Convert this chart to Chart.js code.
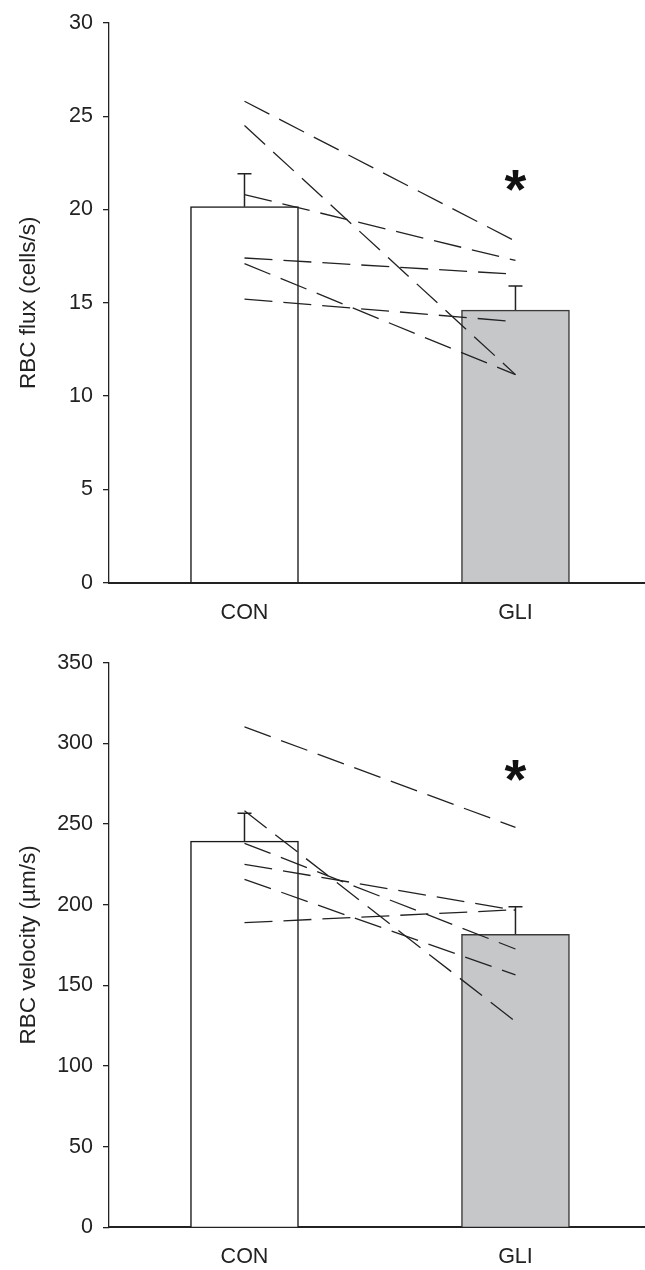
<!DOCTYPE html>
<html>
<head>
<meta charset="utf-8">
<script src="https://cdn.jsdelivr.net/npm/chart.js@4.4.1/dist/chart.umd.min.js"></script>
<style>
  html, body { margin: 0; padding: 0; background: #fff; }
  .panel { width: 645px; height: 635px; }
  canvas { display: block; }
</style>
</head>
<body>
<div class="panel"><canvas id="fluxChart" width="645" height="635"></canvas></div>
<div class="panel"><canvas id="velocityChart" width="645" height="635"></canvas></div>
<script>
const groups = ['CON', 'GLI'];

// RBC flux (cells/s): group means, SEM, and paired subjects
const fluxMean = [20.15, 14.61];
const fluxSem = [1.77, 1.29];
const fluxCon = [25.8, 24.5, 20.8, 17.4, 17.1, 15.2];
const fluxGli = [18.3, 11.15, 17.27, 16.53, 11.15, 13.99];
const fluxTicks = [0, 5, 10, 15, 20, 25, 30];

// RBC velocity (µm/s)
const velMean = [239.4, 181.6];
const velSem = [17.2, 17.1];
const velCon = [310.1, 258.2, 238.0, 225.0, 215.7, 188.8];
const velGli = [247.9, 127.5, 172.5, 196.5, 156.5, 196.8];
const velTicks = [0, 50, 100, 150, 200, 250, 300, 350];

// where the significance star sits (y value, above GLI)
const fluxStar = 21.35;
const velStar = 280.4;

function hasFont(name) {
    const c = document.createElement('canvas').getContext('2d');
    c.font = '40px monospace';
    const a = c.measureText('CON GLI 0123').width;
    c.font = '40px "' + name + '", monospace';
    const b = c.measureText('CON GLI 0123').width;
    return a !== b;
}
const narrow = hasFont('Liberation Sans Narrow');
const tickFont = narrow
    ? { family: '"Liberation Sans Narrow"', size: 23 }
    : { family: '"Liberation Sans", Arial, sans-serif', size: 21.5 };
const titleFont = { family: '"Liberation Sans", Arial, sans-serif', size: 22.5 };

// error bars (upward only) and the asterisk
const extras = {
    id: 'extras',
    afterDatasetsDraw(chart, args, opts) {
        const { ctx, scales: { x, y } } = chart;
        ctx.save();
        ctx.strokeStyle = '#222';
        ctx.lineWidth = 1.5;
        opts.mean.forEach((m, i) => {
            const px = x.getPixelForValue(i);
            const y0 = y.getPixelForValue(m);
            const y1 = y.getPixelForValue(m + opts.sem[i]);
            ctx.beginPath();
            ctx.moveTo(px, y0);
            ctx.lineTo(px, y1);
            ctx.moveTo(px - 7, y1);
            ctx.lineTo(px + 7, y1);
            ctx.stroke();
        });
        const size = 56;
        ctx.font = 'bold ' + size + 'px "Liberation Sans", Arial, sans-serif';
        ctx.textAlign = 'center';
        ctx.textBaseline = 'alphabetic';
        ctx.fillStyle = '#111';
        ctx.fillText('*', x.getPixelForValue(1), y.getPixelForValue(opts.star) + 0.42 * size);
        ctx.restore();
    }
};

function makeChart(id, p) {
    const lines = p.con.map((v, i) => ({
        type: 'line',
        data: [{ x: 0, y: v }, { x: 1, y: p.gli[i] }],
        borderColor: '#222',
        borderWidth: 1.3,
        borderDash: [28, 11],
        pointRadius: 0,
        fill: false,
        order: 1
    }));
    const bars = {
        type: 'bar',
        data: p.mean.map((m, i) => ({ x: i, y: m })),
        backgroundColor: ['#ffffff', '#c6c7c9'],
        borderColor: ['#1a1a1a', '#3a3a3a'],
        borderWidth: { top: 1.5, left: 1.5, right: 1.5, bottom: 0 },
        barThickness: 108,
        order: 2
    };

    return new Chart(document.getElementById(id), {
        type: 'bar',
        data: { datasets: [bars].concat(lines) },
        options: {
            responsive: false,
            devicePixelRatio: 1,
            animation: false,
            layout: { padding: { top: p.padTop, left: 0, right: 0, bottom: 0 } },
            plugins: {
                legend: { display: false },
                tooltip: { enabled: false },
                extras: { mean: p.mean, sem: p.sem, star: p.star }
            },
            scales: {
                x: {
                    type: 'linear',
                    offset: false,
                    min: -0.5,
                    max: 1.478,
                    afterBuildTicks: s => { s.ticks = groups.map((g, i) => ({ value: i })); },
                    afterFit: s => { s.height = p.xHeight; },
                    grid: { display: false, drawTicks: false, offset: false },
                    border: { color: '#222', width: 2 },
                    ticks: {
                        callback: v => groups[v],
                        color: '#222',
                        font: tickFont,
                        padding: 17,
                        maxRotation: 0
                    }
                },
                y: {
                    min: p.ticks[0],
                    max: p.ticks[p.ticks.length - 1],
                    afterFit: s => { s.width = 109; },
                    ticks: {
                        stepSize: p.ticks[1] - p.ticks[0],
                        color: '#222',
                        font: tickFont,
                        padding: 10
                    },
                    grid: { drawOnChartArea: false, tickLength: 6, color: '#222', lineWidth: 1.3 },
                    border: { color: '#222', width: 1.3 },
                    title: {
                        display: true,
                        text: p.title,
                        color: '#222',
                        font: titleFont,
                        padding: { top: 15.5, bottom: 0 }
                    }
                }
            }
        },
        plugins: [extras]
    });
}

makeChart('fluxChart', {
    mean: fluxMean, sem: fluxSem, con: fluxCon, gli: fluxGli,
    ticks: fluxTicks, star: fluxStar, title: 'RBC flux (cells/s)',
    padTop: 19.3, xHeight: 52.3
});

makeChart('velocityChart', {
    mean: velMean, sem: velSem, con: velCon, gli: velGli,
    ticks: velTicks, star: velStar, title: 'RBC velocity (µm/s)',
    padTop: 27.6, xHeight: 42.7
});
</script>
</body>
</html>
